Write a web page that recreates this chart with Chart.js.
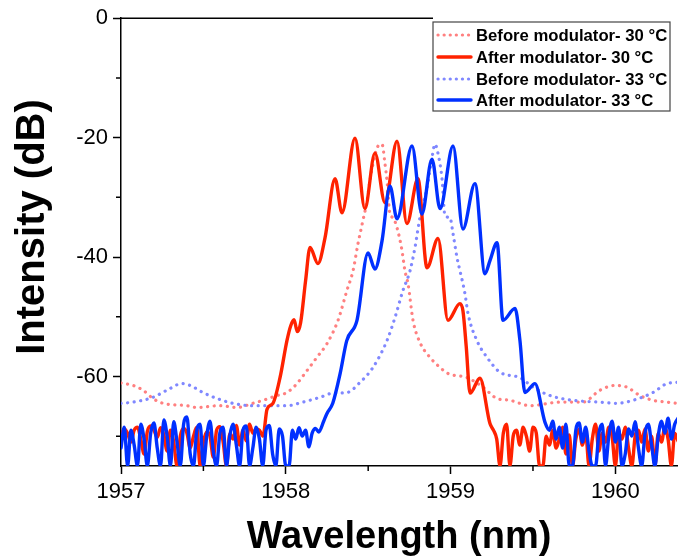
<!DOCTYPE html>
<html>
<head>
<meta charset="utf-8">
<script src="https://cdn.jsdelivr.net/npm/chart.js@4.4.1/dist/chart.umd.min.js"></script>
<style>
  body { margin: 0; background: #fff; }
</style>
</head>
<body>
<canvas id="MyChart" width="680" height="558"></canvas>
<script>
// tick values
const xTicks = [1957, 1958, 1959, 1960];
const xMinor = [1957.5, 1958.5, 1959.5];
const yTicks = [0, -20, -40, -60];
const yMinor = [-10, -30, -50, -70];

// series as [wavelength nm, intensity dB]
const redBefore = [
  [1957.00,-61.1],[1957.073,-61.5],[1957.133,-62.3],[1957.194,-63.7],[1957.255,-64.5],[1957.40,-64.9],
  [1957.461,-65.2],[1957.60,-64.9],[1957.704,-65.2],[1957.80,-64.5],[1957.862,-64],[1957.947,-63.2],
  [1958.007,-62.7],[1958.068,-61.2],[1958.129,-59],[1958.189,-56.8],[1958.25,-54.5],[1958.317,-50.6],
  [1958.371,-45.6],[1958.408,-42.3],[1958.438,-37.8],[1958.468,-33.9],[1958.493,-30.6],[1958.511,-27.2],
  [1958.529,-24.4],[1958.56,-21.4],[1958.584,-21.1],[1958.602,-24.4],[1958.614,-27.2],[1958.632,-32.8],
  [1958.65,-33.4],[1958.675,-35.1],[1958.705,-38.9],[1958.723,-42.3],[1958.742,-44.5],[1958.772,-50.6],
  [1958.814,-54.3],[1958.875,-56.8],[1958.936,-58.5],[1958.984,-59.5],[1959.10,-60.2],[1959.197,-61.8],
  [1959.282,-63.7],[1959.36,-64],[1959.482,-64.9],[1959.664,-64.3],[1959.803,-64.3],[1959.907,-62.3],
  [1959.998,-61.5],[1960.07,-61.8],[1960.149,-63.2],[1960.228,-64],[1960.313,-64.3],[1960.374,-64.5]
];

const redAfter = [
  [1957.00,-70],[1957.02,-68.8],[1957.04,-69.5],[1957.06,-71],[1957.08,-69],[1957.10,-68.5],
  [1957.12,-70.5],[1957.14,-73],[1957.16,-69.2],[1957.18,-68.3],[1957.20,-69],[1957.22,-70.2],
  [1957.24,-68.6],[1957.26,-69.8],[1957.28,-72.5],[1957.30,-69],[1957.32,-71],[1957.34,-75],
  [1957.36,-70],[1957.38,-68.7],[1957.40,-69.5],[1957.42,-72],[1957.44,-70],[1957.46,-68.5],
  [1957.48,-75],[1957.50,-71],[1957.52,-69.3],[1957.54,-70],[1957.56,-73.5],[1957.58,-69],
  [1957.60,-68.4],[1957.62,-71],[1957.64,-75],[1957.66,-69.6],[1957.68,-70.5],[1957.70,-68.2],
  [1957.72,-71.5],[1957.74,-69],[1957.76,-70.8],[1957.78,-68],[1957.80,-69.5],[1957.82,-68.8],
  [1957.84,-69],[1957.862,-70],[1957.886,-65.5],[1957.922,-64.5],[1957.965,-60.2],[1958.007,-54],
  [1958.03,-51.5],[1958.05,-50.5],[1958.07,-52.5],[1958.09,-51],[1958.12,-44],[1958.147,-38.4],
  [1958.195,-41.1],[1958.238,-36.8],[1958.299,-26.9],[1958.341,-32.6],[1958.42,-20.1],[1958.48,-31.9],
  [1958.541,-22.6],[1958.602,-30.9],[1958.675,-20.6],[1958.735,-34.4],[1958.802,-26.9],[1958.857,-41.8],
  [1958.924,-36.9],[1958.984,-50.6],[1959.057,-47.8],[1959.075,-49],[1959.095,-55],[1959.118,-62.8],
  [1959.178,-60.3],[1959.239,-67.9],[1959.26,-69],[1959.28,-70.5],[1959.30,-75],[1959.32,-69.5],
  [1959.34,-68],[1959.36,-75],[1959.38,-70],[1959.40,-69],[1959.42,-71.5],[1959.44,-68.5],
  [1959.46,-70],[1959.48,-72.5],[1959.50,-68.5],[1959.52,-69.5],[1959.54,-75],[1959.56,-75],
  [1959.58,-70],[1959.60,-71.5],[1959.62,-69],[1959.64,-72],[1959.66,-70.5],[1959.68,-68.5],
  [1959.70,-73],[1959.72,-69.8],[1959.74,-75],[1959.76,-70.5],[1959.78,-68.8],[1959.80,-71.5],
  [1959.82,-69.5],[1959.84,-75],[1959.86,-70.5],[1959.88,-68],[1959.90,-72.5],[1959.92,-69.5],
  [1959.94,-71],[1959.96,-68.5],[1959.98,-70],[1960.00,-75],[1960.02,-69.5],[1960.04,-70.5],
  [1960.06,-68.5],[1960.08,-72],[1960.10,-75],[1960.12,-70],[1960.14,-69],[1960.16,-71],
  [1960.18,-68.8],[1960.20,-72.5],[1960.22,-70],[1960.24,-75],[1960.26,-69.5],[1960.28,-71],
  [1960.30,-68.5],[1960.32,-70.5],[1960.34,-75],[1960.36,-69.5],[1960.38,-70.8]
];

const blueBefore = [
  [1957.00,-64.5],[1957.073,-64.3],[1957.194,-63.5],[1957.279,-62.3],[1957.37,-61.2],[1957.419,-61.5],
  [1957.498,-62.7],[1957.583,-63.7],[1957.68,-64.5],[1957.80,-64.9],[1958.007,-64.9],[1958.104,-64.3],
  [1958.208,-63.5],[1958.286,-62.8],[1958.371,-62.7],[1958.45,-61],[1958.529,-58.5],[1958.614,-54],
  [1958.663,-50.1],[1958.711,-45.6],[1958.754,-42.3],[1958.784,-38.4],[1958.814,-33.4],[1958.857,-28.4],
  [1958.887,-23.4],[1958.905,-21.1],[1958.924,-22.7],[1958.948,-26.9],[1958.966,-33.1],[1958.996,-33.4],
  [1959.015,-36.1],[1959.039,-40.1],[1959.057,-42.3],[1959.087,-46.1],[1959.106,-49.5],[1959.16,-54],
  [1959.221,-56.8],[1959.30,-59.3],[1959.421,-60.2],[1959.50,-61.8],[1959.603,-63.2],[1959.743,-64],
  [1959.907,-64.3],[1960.01,-64.5],[1960.107,-64],[1960.228,-62.7],[1960.313,-61.2],[1960.374,-61]
];

const blueAfter = [
  [1957.00,-72],[1957.02,-68.5],[1957.04,-75],[1957.06,-69],[1957.08,-71.5],[1957.10,-75],
  [1957.12,-68],[1957.14,-70.5],[1957.16,-75],[1957.18,-69.5],[1957.20,-67.8],[1957.22,-72],
  [1957.24,-75],[1957.26,-67.3],[1957.28,-70],[1957.30,-75],[1957.32,-67.6],[1957.34,-71],
  [1957.36,-75],[1957.38,-68],[1957.40,-66.8],[1957.42,-73],[1957.44,-75],[1957.46,-69],
  [1957.48,-68],[1957.50,-75],[1957.52,-70],[1957.54,-67.5],[1957.56,-72.5],[1957.58,-75],
  [1957.60,-69.5],[1957.62,-68.5],[1957.64,-75],[1957.66,-70],[1957.68,-68],[1957.70,-71.5],
  [1957.72,-75],[1957.74,-69],[1957.76,-68.3],[1957.78,-75],[1957.80,-72],[1957.82,-68.5],
  [1957.84,-70.5],[1957.86,-75],[1957.88,-69],[1957.90,-68.2],[1957.92,-73],[1957.94,-75],
  [1957.96,-68.8],[1957.98,-70],[1958.00,-75],[1958.02,-75],[1958.04,-69],[1958.06,-70.5],
  [1958.08,-68.6],[1958.10,-70],[1958.12,-69],[1958.14,-71.8],[1958.16,-69.5],[1958.18,-68.7],
  [1958.20,-69.3],[1958.23,-67.5],[1958.25,-66.2],[1958.285,-64.5],[1958.33,-59.5],[1958.37,-54],
  [1958.432,-50.6],[1958.499,-39.3],[1958.541,-42],[1958.584,-37.3],[1958.632,-28.1],[1958.675,-33.6],
  [1958.766,-21.4],[1958.826,-32.8],[1958.887,-23.6],[1958.936,-31.9],[1959.015,-21.4],[1959.075,-35.3],
  [1959.148,-27.7],[1959.209,-42.8],[1959.239,-40.6],[1959.282,-37.6],[1959.318,-50.6],[1959.391,-48.6],
  [1959.421,-54],[1959.451,-62.7],[1959.512,-61.2],[1959.573,-67.7],[1959.60,-69],[1959.62,-67.5],
  [1959.64,-70.5],[1959.66,-68.5],[1959.68,-72],[1959.70,-68],[1959.72,-75],[1959.74,-75],
  [1959.76,-69],[1959.78,-67.8],[1959.80,-71],[1959.82,-68.5],[1959.84,-72.5],[1959.86,-75],
  [1959.88,-75],[1959.90,-69.5],[1959.92,-68],[1959.94,-75],[1959.96,-70],[1959.98,-67.5],
  [1960.00,-71],[1960.02,-68.5],[1960.04,-75],[1960.06,-73],[1960.08,-68.8],[1960.10,-70],
  [1960.12,-67.6],[1960.14,-72],[1960.16,-75],[1960.18,-69.5],[1960.20,-68],[1960.22,-71.5],
  [1960.24,-75],[1960.26,-70],[1960.28,-67.5],[1960.30,-69.5],[1960.32,-67],[1960.34,-70.5],
  [1960.36,-68],[1960.38,-67]
];

const seriesNames = [
  'Before modulator- 30 \u00B0C',
  'After modulator- 30 \u00B0C',
  'Before modulator- 33 \u00B0C',
  'After modulator- 33 \u00B0C'
];
const seriesColors = ['#ff8080', '#ff2200', '#8088ff', '#0030ff'];
const seriesDotted = [true, false, true, false];

const font = '"Liberation Sans", Arial, sans-serif';

function toPoints(arr) {
  return arr.map(function (p) { return { x: p[0], y: p[1] }; });
}

function makeSet(i, arr, order) {
  return {
    label: seriesNames[i],
    data: toPoints(arr),
    borderColor: seriesColors[i],
    borderWidth: seriesDotted[i] ? 3.2 : 3.4,
    borderDash: seriesDotted[i] ? [0.1, 6.5] : [],
    borderCapStyle: 'round',
    borderJoinStyle: 'round',
    cubicInterpolationMode: 'monotone',
    pointRadius: 0,
    fill: false,
    order: order
  };
}

// legend box, minor ticks, top line and the y title
const extras = {
  id: 'extras',
  afterDraw(chart) {
    const ctx = chart.ctx;
    const xs = chart.scales.x;
    const ys = chart.scales.y;
    const area = chart.chartArea;
    const box = { x: 433, y: 22, w: 237, h: 89 };

    ctx.save();
    ctx.strokeStyle = '#000';
    ctx.lineWidth = 1.5;
    ctx.beginPath();
    xMinor.forEach(function (v) {
      const px = xs.getPixelForValue(v);
      ctx.moveTo(px, area.bottom);
      ctx.lineTo(px, area.bottom + 5);
    });
    yMinor.forEach(function (v) {
      const py = ys.getPixelForValue(v);
      ctx.moveTo(area.left, py);
      ctx.lineTo(area.left - 5, py);
    });
    ctx.moveTo(area.left, area.top);
    ctx.lineTo(box.x, area.top);
    ctx.stroke();

    // y axis title, sits a bit above the centre of the plot like the original
    ctx.save();
    ctx.translate(33, 227);
    ctx.rotate(-Math.PI / 2);
    ctx.font = 'bold 40px ' + font;
    ctx.fillStyle = '#000';
    ctx.textAlign = 'center';
    ctx.textBaseline = 'middle';
    ctx.fillText('Intensity (dB)', 0, 0);
    ctx.restore();

    ctx.fillStyle = '#fff';
    ctx.fillRect(box.x, box.y, box.w, box.h);
    ctx.strokeStyle = '#444';
    ctx.lineWidth = 1.2;
    ctx.strokeRect(box.x, box.y, box.w, box.h);

    const rows = [35, 57, 79, 100];
    ctx.font = 'bold 16.7px ' + font;
    ctx.textBaseline = 'middle';
    for (let i = 0; i < 4; i++) {
      ctx.beginPath();
      ctx.strokeStyle = seriesColors[i];
      ctx.lineWidth = seriesDotted[i] ? 3.2 : 3.4;
      ctx.lineCap = 'round';
      ctx.setLineDash(seriesDotted[i] ? [0.1, 6] : []);
      ctx.moveTo(438, rows[i]);
      ctx.lineTo(471, rows[i]);
      ctx.stroke();
      ctx.setLineDash([]);
      ctx.fillStyle = '#000';
      ctx.fillText(seriesNames[i], 476, rows[i] + 1);
    }
    ctx.restore();
  }
};

const ctx = document.getElementById('MyChart').getContext('2d');
new Chart(ctx, {
  type: 'line',
  data: {
    datasets: [
      makeSet(0, redBefore, 4),
      makeSet(1, redAfter, 2),
      makeSet(2, blueBefore, 3),
      makeSet(3, blueAfter, 1)
    ]
  },
  options: {
    responsive: false,
    animation: false,
    layout: { padding: { left: 0, right: 3, top: 17, bottom: 0 } },
    plugins: { legend: { display: false }, tooltip: { enabled: false } },
    scales: {
      x: {
        type: 'linear',
        min: 1957,
        max: 1960.374,
        afterBuildTicks: function (s) { s.ticks = xTicks.map(function (v) { return { value: v }; }); },
        afterFit: function (s) { s.height = 92; },
        grid: { drawOnChartArea: false, drawTicks: true, tickLength: 8, tickWidth: 1.5, tickColor: '#000' },
        border: { display: true, color: '#000', width: 1.5 },
        ticks: {
          color: '#000', padding: 5, maxRotation: 0, autoSkip: false,
          font: { family: font, size: 22 },
          callback: function (v) { return String(v); }
        },
        title: {
          display: true, text: 'Wavelength (nm)', color: '#000',
          font: { family: font, size: 38, weight: 'bold', lineHeight: 1 },
          padding: { top: 0, bottom: 1 }
        }
      },
      y: {
        type: 'linear',
        min: -75,
        max: 0,
        afterBuildTicks: function (s) { s.ticks = yTicks.map(function (v) { return { value: v }; }); },
        afterFit: function (s) { s.width = 121; },
        grid: { drawOnChartArea: false, drawTicks: true, tickLength: 8, tickWidth: 1.5, tickColor: '#000' },
        border: { display: true, color: '#000', width: 1.5 },
        ticks: {
          color: '#000', padding: 5,
          font: { family: font, size: 22 },
          callback: function (v) { return String(v); }
        },
        title: { display: false }
      }
    }
  },
  plugins: [extras]
});
</script>
</body>
</html>
